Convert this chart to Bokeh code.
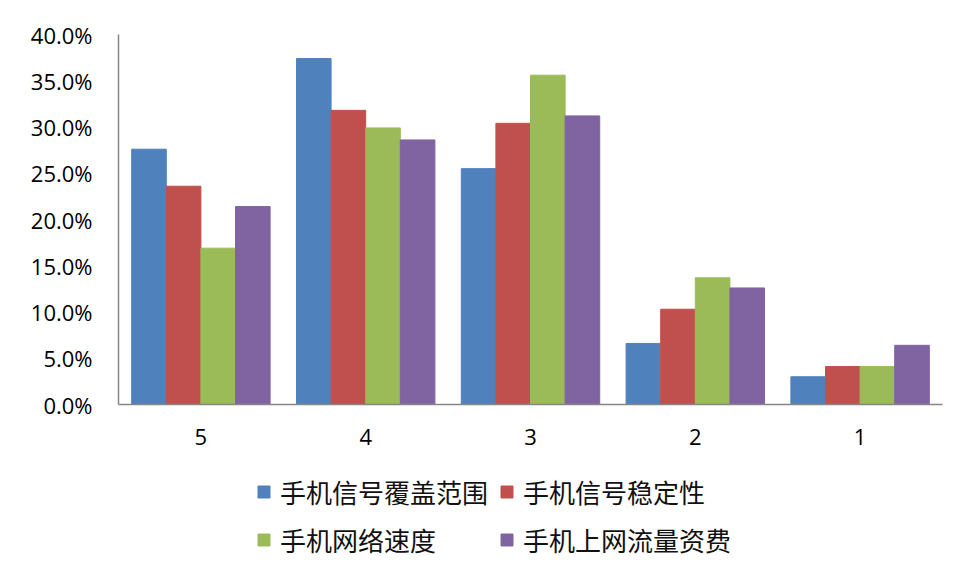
from bokeh.plotting import figure
from bokeh.layouts import column
from bokeh.models import ColumnDataSource, FactorRange, Range1d, NumeralTickFormatter, Legend, LegendItem
from bokeh.transform import dodge
from bokeh.embed import file_html
from bokeh.resources import INLINE

categories = ["5", "4", "3", "2", "1"]
series_names = ["手机信号覆盖范围", "手机信号稳定性", "手机网络速度", "手机上网流量资费"]
coverage = [0.276, 0.374, 0.255, 0.066, 0.030]
stability = [0.236, 0.318, 0.304, 0.103, 0.041]
speed = [0.169, 0.299, 0.356, 0.137, 0.041]
tariff = [0.214, 0.286, 0.312, 0.126, 0.064]
colors = ["#4F81BD", "#C0504D", "#9BBB59", "#8064A2"]
y_ticks = [0.0, 0.05, 0.10, 0.15, 0.20, 0.25, 0.30, 0.35, 0.40]

source = ColumnDataSource(dict(cat=categories, s0=coverage, s1=stability, s2=speed, s3=tariff))

p = figure(width=950, height=470, output_backend="svg", toolbar_location=None,
           x_range=FactorRange(*categories, range_padding=0), y_range=Range1d(0, 0.40))
p.min_border_left = 118
p.min_border_top = 34
p.min_border_right = 8
p.min_border_bottom = 66
p.outline_line_color = None
p.xgrid.grid_line_color = None
p.ygrid.grid_line_color = None
p.background_fill_color = "white"
p.border_fill_color = "white"

offsets = [-0.315, -0.105, 0.105, 0.315]
for i, (name, col) in enumerate(zip(series_names, colors)):
    p.vbar(x=dodge("cat", offsets[i], range=p.x_range), top="s%d" % i, width=0.21,
           source=source, fill_color=col, line_color=col)

p.yaxis.ticker = y_ticks
p.yaxis.formatter = NumeralTickFormatter(format="0.0%")
for ax in (p.xaxis[0], p.yaxis[0]):
    ax.axis_line_color = "#868686"
    ax.axis_line_width = 1.5
    ax.major_tick_line_color = None
    ax.minor_tick_line_color = None
    ax.major_tick_out = 0
    ax.major_tick_in = 0
    ax.minor_tick_out = 0
    ax.major_label_text_font = "Open Sans"
    ax.major_label_text_font_size = "22px"
    ax.major_label_text_color = "#000000"
p.yaxis.major_label_standoff = 26
p.xaxis.major_label_standoff = 24

# legend panel below the chart (its frame is aligned with the chart's frame)
lg = figure(width=950, height=92, output_backend="svg", toolbar_location=None,
            x_range=Range1d(0, 1), y_range=Range1d(0, 1))
lg.min_border_left = 118
lg.min_border_right = 8
lg.min_border_top = 0
lg.min_border_bottom = 0
lg.axis.visible = False
lg.grid.visible = False
lg.outline_line_color = None
lg.background_fill_color = "white"
lg.border_fill_color = "white"
items = []
for name, col in zip(series_names, colors):
    # swatch-only renderer, its single bar lies outside the visible range
    r = lg.vbar(x=[-5], top=[0], width=0.1, fill_color=col, line_color=col)
    items.append(LegendItem(label=name, renderers=[r]))

legend = Legend(items=items, ncols=2, orientation="horizontal", location=(138, 4))
legend.label_text_font = "Noto Sans CJK SC"
legend.label_text_font_size = "26px"
legend.label_text_color = "#111111"
legend.glyph_width = 15
legend.glyph_height = 15
legend.label_standoff = 9
legend.label_height = 37
legend.spacing = 11
legend.padding = 0
legend.margin = 0
legend.border_line_color = None
legend.background_fill_alpha = 0
lg.add_layout(legend, "center")

layout = column(p, lg, spacing=0)
open("out.html", "w").write(file_html(layout, INLINE))
